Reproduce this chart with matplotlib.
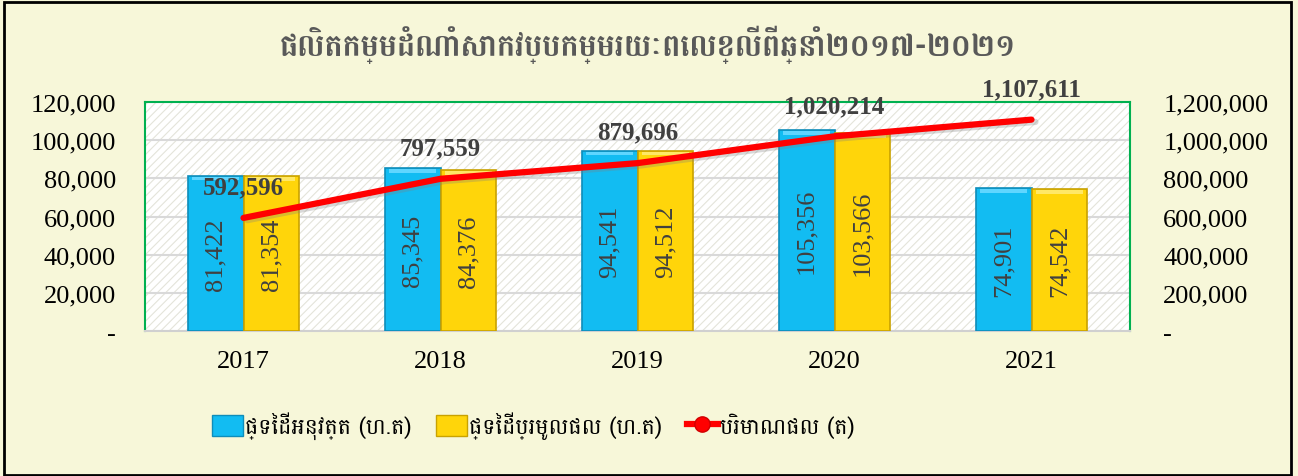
import numpy as np
import matplotlib
matplotlib.use("Agg")
import matplotlib.pyplot as plt
from matplotlib.patches import Rectangle
from matplotlib.lines import Line2D
from matplotlib.ticker import FuncFormatter

# data
years = ["2017", "2018", "2019", "2020", "2021"]
area_planted = [81422, 85345, 94541, 105356, 74901]
area_harvested = [81354, 84376, 94512, 103566, 74542]
production = [592596, 797559, 879696, 1020214, 1107611]

title = "ផលិតកម្មដំណាំសាកវប្បកម្មរយៈពេលខ្លីពីឆ្នាំ២០១៧-២០២១"
lbl_planted = "ផ្ទៃដីអនុវត្ត (ហ.ត)"
lbl_harvested = "ផ្ទៃដីប្រមូលផល (ហ.ត)"
lbl_prod = "បរិមាណផល (ត)"

khmer = ["Battambang", "DejaVu Sans"]
serif = ["Liberation Serif", "DejaVu Serif"]
plt.rcParams["hatch.linewidth"] = 0.8

bg = "#F7F7D9"
blue = "#12BCF2"
yellow = "#FFD50A"
txt = "#404040"

fig = plt.figure(figsize=(12.98, 4.77), dpi=100, facecolor=bg)
fig.patches.append(Rectangle((4 / 1298, 1 / 477), 1287 / 1298, 473 / 477,
                             transform=fig.transFigure, fill=False,
                             edgecolor="black", lw=2))

ax = fig.add_axes([145 / 1298, 1 - 332 / 477, 985 / 1298, 229 / 477])
ax.set_facecolor("white")
ax.add_patch(Rectangle((0, 0), 1, 1, transform=ax.transAxes, facecolor="none",
                       edgecolor="#E4E4DA", hatch="////", lw=0, zorder=0))

x = np.arange(len(years))
w = 0.284
b1 = ax.bar(x - w / 2, area_planted, w, color=blue, edgecolor="#0E8DBA",
            lw=1.2, zorder=3)
b2 = ax.bar(x + w / 2, area_harvested, w, color=yellow, edgecolor="#C9A200",
            lw=1.2, zorder=3)
# lighter bevel strip on top of each bar
for bars, light in ((b1, "#5FD6FF"), (b2, "#FFE866")):
    for r in bars:
        ax.bar(r.get_x() + r.get_width() / 2, 2000, r.get_width() * 0.85,
               bottom=r.get_height() - 2500, color=light, lw=0, zorder=3.5)
for bars in (b1, b2):
    for r in bars:
        h = r.get_height()
        ax.text(r.get_x() + r.get_width() / 2, h / 2, f"{h:,.0f}", rotation=90,
                ha="center", va="center", fontsize=19, color=txt,
                family=serif, zorder=5)

ax.set_xlim(-0.5, len(years) - 0.5)
ax.set_ylim(0, 120000)
ax.set_yticks(np.arange(0, 120001, 20000))
fmt = FuncFormatter(lambda v, p: "-" if v == 0 else f"{v:,.0f}")
ax.yaxis.set_major_formatter(fmt)
ax.grid(axis="y", color="#D9D9D9", lw=1.5, zorder=1)
ax.set_axisbelow(True)
ax.set_xticks(x)
ax.set_xticklabels(years)
ax.tick_params(length=0, labelsize=19, pad=14)
ax.tick_params(axis="y", pad=21)
for lab in ax.get_xticklabels() + ax.get_yticklabels():
    lab.set_family(serif)

for s in ax.spines.values():
    s.set_color("#00B050")
    s.set_linewidth(1.5)
ax.spines["bottom"].set_color("#D0D0D0")

ax2 = ax.twinx()
ax2.set_ylim(0, 1200000)
ax2.set_yticks(np.arange(0, 1200001, 200000))
ax2.yaxis.set_major_formatter(fmt)
ax2.tick_params(length=0, labelsize=19, pad=24)
for lab in ax2.get_yticklabels():
    lab.set_family(serif)
for s in ax2.spines.values():
    s.set_visible(False)
ax2.plot(x + 0.02, np.array(production) - 12000, color="#808080", lw=4.5,
         alpha=0.3, solid_capstyle="round", zorder=4)
ax2.plot(x, production, color="#FF0000", lw=4.5, solid_capstyle="round", zorder=5)
for xi, v in zip(x, production):
    ax2.annotate(f"{v:,.0f}", (xi, v), xytext=(0, 14), textcoords="offset points",
                 ha="center", va="bottom", fontsize=18, fontweight="bold",
                 color=txt, family=serif, annotation_clip=False, zorder=6)

fig.text(648 / 1298, 1 - 45 / 477, title, ha="center", va="center",
         fontsize=22, fontweight="bold", color="#595959", family=khmer)

handles = [
    Rectangle((0, 0), 1, 1, facecolor=blue, edgecolor="#0E8DBA"),
    Rectangle((0, 0), 1, 1, facecolor=yellow, edgecolor="#C9A200"),
    Line2D([], [], color="#FF0000", lw=4.5, marker="o", markersize=11,
           markerfacecolor="#FF0000", markeredgecolor="#D00000"),
]
fig.legend(handles, [lbl_planted, lbl_harvested, lbl_prod], loc="center left",
           bbox_to_anchor=(192 / 1298, 1 - 426 / 477), ncol=3, frameon=False,
           prop={"family": khmer, "size": 16}, handlelength=1.4,
           handleheight=1.1, handletextpad=0.1, columnspacing=1.1)

fig.savefig("out.png", dpi=100, facecolor=bg)
